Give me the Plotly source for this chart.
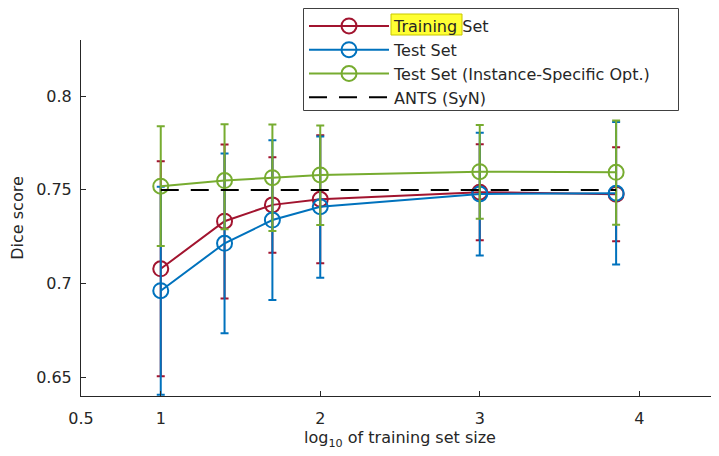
import numpy as np
import plotly.graph_objects as go

# ---- data ----
log_train_size = [1.0, 1.4, 1.7, 2.0, 3.0, 3.855]

train_mean  = [0.7079, 0.7333, 0.7420, 0.7450, 0.7488, 0.7477]
train_upper = [0.7653, 0.7742, 0.7674, 0.7792, 0.7744, 0.7728]
train_lower = [0.6505, 0.6921, 0.7165, 0.7109, 0.7231, 0.7226]

test_mean  = [0.6962, 0.7215, 0.7339, 0.7410, 0.7478, 0.7482]
test_upper = [0.7517, 0.7694, 0.7765, 0.7785, 0.7805, 0.7862]
test_lower = [0.6407, 0.6735, 0.6912, 0.7031, 0.7150, 0.7102]

iso_mean  = [0.7520, 0.7550, 0.7565, 0.7580, 0.7597, 0.7594]
iso_upper = [0.7840, 0.7850, 0.7849, 0.7844, 0.7846, 0.7870]
iso_lower = [0.7200, 0.7290, 0.7280, 0.7312, 0.7346, 0.7314]

ants_score = 0.75

series_names = ["Training Set", "Test Set", "Test Set (Instance-Specific Opt.)", "ANTS (SyN)"]
x_ticks = [0.5, 1, 2, 3, 4]
y_ticks = [0.65, 0.7, 0.75, 0.8]

# ---- styling ----
RED, BLUE, GREEN = "#A2142F", "#0072BD", "#77AC30"
FONT = "DejaVu Sans, Liberation Sans, Arial, sans-serif"
INK = "#262626"
FS = 16

fig = go.Figure()

def add_series(name, mean, upper, lower, color):
    m = np.array(mean)
    fig.add_trace(go.Scatter(
        x=log_train_size, y=mean, name=name, mode="lines+markers",
        line=dict(color=color, width=2),
        marker=dict(symbol="circle-open", size=15, color=color, line=dict(width=2, color=color)),
        error_y=dict(type="data", symmetric=False,
                     array=list(np.array(upper) - m), arrayminus=list(m - np.array(lower)),
                     color=color, thickness=2, width=4),
    ))

add_series(series_names[0], train_mean, train_upper, train_lower, RED)
add_series(series_names[1], test_mean, test_upper, test_lower, BLUE)
add_series(series_names[2], iso_mean, iso_upper, iso_lower, GREEN)

fig.add_trace(go.Scatter(
    x=[log_train_size[0], log_train_size[-1]], y=[ants_score, ants_score],
    name=series_names[3], mode="lines",
    line=dict(color="black", width=2, dash="18px,12px"),
))

# the page body has an 8px margin, so the figure is 8px smaller and offset
OFF = 8
W, H = 719 - OFF, 456 - OFF
ML, MR, MT, MB = 81 - OFF, 0, 40 - OFF, 60
pw, ph = W - ML - MR, H - MT - MB

def px_x(p):
    return (p - OFF - ML) / pw

def px_y(p):
    return 1 - (p - OFF - MT) / ph

# legend frame (drawn as a shape so it can be wider than the text)
fig.add_shape(type="rect", xref="paper", yref="paper",
              x0=px_x(303.5), x1=px_x(678.5), y0=px_y(110.5), y1=px_y(8.5),
              fillcolor="rgba(0,0,0,0)", line=dict(color="#404040", width=1), layer="above")

# yellow highlight behind "Training" in the legend
fig.add_shape(type="rect", xref="paper", yref="paper",
              x0=px_x(391), x1=px_x(462), y0=px_y(35), y1=px_y(14),
              fillcolor="#FFFF33", line=dict(color="#C8C800", width=1), layer="above")

fig.update_layout(
    width=W, height=H,
    margin=dict(l=ML, r=MR, t=MT, b=MB, autoexpand=False),
    paper_bgcolor="white", plot_bgcolor="white",
    font=dict(family=FONT, size=FS, color=INK),
    showlegend=True,
    legend=dict(
        x=px_x(303), y=px_y(8), xanchor="left", yanchor="top",
        bgcolor="rgba(0,0,0,0)", bordercolor="rgba(0,0,0,0)", borderwidth=1,
        font=dict(family=FONT, size=FS, color=INK),
        itemwidth=80, tracegroupgap=0,
    ),
    xaxis=dict(
        range=[0.5, 4.5], tickvals=x_ticks, ticktext=[str(v) for v in x_ticks],
        showgrid=False, zeroline=False, showline=True, linecolor=INK, linewidth=1,
        ticks="inside", ticklen=5, tickcolor=INK, mirror=False, automargin=False,
        ticklabelstandoff=8,
        title=dict(text="log<sub>10</sub> of training set size", standoff=4,
                   font=dict(size=FS, color=INK)),
    ),
    yaxis=dict(
        range=[0.64, 0.83], tickvals=y_ticks, ticktext=[str(v) for v in y_ticks],
        showgrid=False, zeroline=False, showline=True, linecolor=INK, linewidth=1,
        ticks="inside", ticklen=5, tickcolor=INK, mirror=False, automargin=False,
        ticklabelstandoff=5,
        title=dict(text="Dice score", standoff=9, font=dict(size=FS, color=INK)),
    ),
)

fig.write_html("out.html")
